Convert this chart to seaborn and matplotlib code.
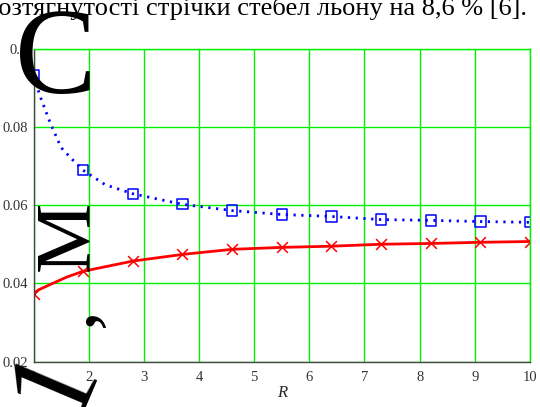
import matplotlib
matplotlib.use("Agg")
import matplotlib.pyplot as plt
import seaborn as sns
import pandas as pd

# ---- data ----
R_marks = [1, 1.9, 2.8, 3.7, 4.6, 5.5, 6.4, 7.3, 8.2, 9.1, 10]
blue_marks = [0.0931, 0.0689, 0.0629, 0.0602, 0.0586, 0.0576, 0.0571, 0.0563, 0.0561, 0.0558, 0.0556]
red_marks = [0.0374, 0.0431, 0.0457, 0.0474, 0.0487, 0.0492, 0.0495, 0.0500, 0.0502, 0.0505, 0.0507]

R_blue_line = [1, 1.12, 1.3, 1.5, 1.7, 1.9, 2.3, 2.8, 3.7, 4.6, 5.5, 6.4, 7.3, 8.2, 9.1, 10]
blue_line = [0.0931, 0.0878, 0.0811, 0.0747, 0.0717, 0.0689, 0.0652, 0.0629, 0.0602, 0.0586,
             0.0576, 0.0571, 0.0563, 0.0561, 0.0558, 0.0556]
R_red_line = [1, 1.1, 1.3, 1.6, 1.9, 2.8, 3.7, 4.6, 5.5, 6.4, 7.3, 8.2, 9.1, 10]
red_line = [0.0374, 0.0384, 0.0397, 0.0416, 0.0431, 0.0457, 0.0474, 0.0487, 0.0492, 0.0495,
            0.0500, 0.0502, 0.0505, 0.0507]

x_ticks = [1, 2, 3, 4, 5, 6, 7, 8, 9, 10]
x_labels = ["1", "2", "3", "4", "5", "6", "7", "8", "9", "10"]
y_ticks = [0.02, 0.04, 0.06, 0.08, 0.1]
y_labels = ["0.02", "0.04", "0.06", "0.08", "0.1"]

sns.set_style("white")
plt.rcParams['font.family'] = ['Liberation Serif', 'DejaVu Serif']

W, H = 540, 407
fig = plt.figure(figsize=(W / 100, H / 100), dpi=100)
ax = fig.add_axes([33.5 / W, 1 - 361.7 / H, (530 - 33.5) / W, (361.7 - 48.5) / H])

green = "#00f000"
ax.set_xlim(1, 10)
ax.set_ylim(0.02, 0.1)
ax.set_xticks(x_ticks, x_labels)
ax.set_yticks(y_ticks, y_labels)
ax.grid(True, color=green, lw=1.0)
ax.set_axisbelow(True)

dfb = pd.DataFrame({"R": R_blue_line, "v": blue_line})
dfr = pd.DataFrame({"R": R_red_line, "v": red_line})
sns.lineplot(data=dfb, x="R", y="v", ax=ax, color="#0000ff", lw=2.0,
             linestyle=(0, (0.8, 2.0)), estimator=None, sort=False)
sns.lineplot(data=dfr, x="R", y="v", ax=ax, color="#ff0000", lw=2.0,
             estimator=None, sort=False)
sns.scatterplot(x=R_marks, y=blue_marks, ax=ax, marker="s", s=55,
                facecolors="none", edgecolor="#0000ff", linewidth=1.1)
sns.scatterplot(x=R_marks, y=red_marks, ax=ax, marker="x", s=60,
                color="#ff0000", linewidth=1.1)

for s in ["top", "right"]:
    ax.spines[s].set_color(green)
    ax.spines[s].set_linewidth(1.0)
for s in ["left", "bottom"]:
    ax.spines[s].set_color("#444444")
    ax.spines[s].set_linewidth(1.0)

ax.tick_params(direction="inout", length=7, width=1, color="#111111",
               labelsize=10.5, labelcolor="#333333")
ax.tick_params(axis="y", pad=0.5)
ax.tick_params(axis="x", pad=3)
ax.set_ylabel("")
ax.set_xlabel("R", style="italic", fontsize=12, labelpad=1)

# top clipped line of page text
fig.text(527 / W, 1 - 15 / H, "розтягнутості стрічки стебел льону на 8,6 % [6].",
         ha="right", va="baseline", fontsize=19, color="black")

# large overlapping glyphs
fig.text(15 / W, 1 - 93 / H, "C", fontsize=88, ha="left", va="baseline", color="black")
fig.text(69 / W, 1 - 236 / H, "M", fontsize=57, rotation=90, ha="center", va="center",
         color="black")
fig.text(73 / W, 1 - 317 / H, ",", fontsize=57, rotation=90, ha="center", va="center",
         color="black")
fig.text(55 / W, 1 - 380 / H, "1", fontsize=88, rotation=67, ha="center", va="center",
         color="black")

fig.savefig("out.png", dpi=100)
